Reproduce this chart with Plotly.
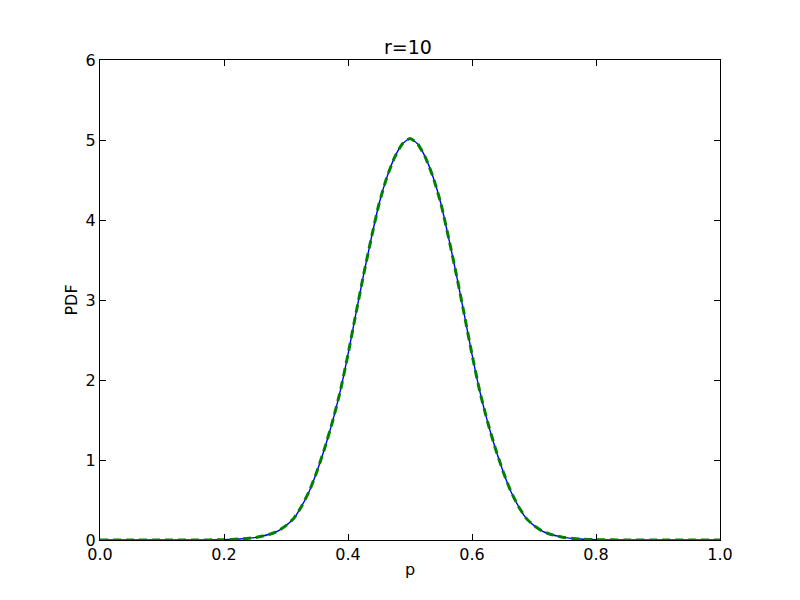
import plotly.graph_objects as go

# values (symmetric bell around p=0.5)
p = [0.0, 0.05, 0.1, 0.15, 0.2, 0.225, 0.25, 0.2625, 0.275, 0.2875, 0.3,
     0.3125, 0.325, 0.3375, 0.35, 0.3625, 0.375, 0.3875, 0.4, 0.4125, 0.425,
     0.4375, 0.45, 0.4625, 0.475, 0.4875, 0.5, 0.5125, 0.525, 0.5375, 0.55,
     0.5625, 0.575, 0.5875, 0.6, 0.6125, 0.625, 0.6375, 0.65, 0.6625, 0.675,
     0.6875, 0.7, 0.7125, 0.725, 0.7375, 0.75, 0.775, 0.8, 0.85, 0.9, 0.95, 1.0]
pdf_exact = [0.0, 0.0, 0.0, 0.0, 0.004, 0.012, 0.03, 0.05, 0.075, 0.115, 0.18,
             0.27, 0.42, 0.61, 0.86, 1.15, 1.48, 1.86, 2.32, 2.82, 3.31,
             3.77, 4.20, 4.53, 4.78, 4.95, 5.02, 4.95, 4.78, 4.53, 4.20,
             3.77, 3.31, 2.82, 2.32, 1.86, 1.48, 1.15, 0.86, 0.61, 0.42,
             0.27, 0.18, 0.115, 0.075, 0.05, 0.03, 0.012, 0.004, 0.0, 0.0, 0.0, 0.0]
pdf_approx = [0.0, 0.0, 0.0, 0.0, 0.004, 0.012, 0.03, 0.05, 0.075, 0.115, 0.18,
              0.27, 0.42, 0.61, 0.86, 1.15, 1.48, 1.86, 2.32, 2.82, 3.31,
              3.77, 4.20, 4.53, 4.78, 4.95, 5.02, 4.95, 4.78, 4.53, 4.20,
              3.77, 3.31, 2.82, 2.32, 1.86, 1.48, 1.15, 0.86, 0.61, 0.42,
              0.27, 0.18, 0.115, 0.075, 0.05, 0.03, 0.012, 0.004, 0.0, 0.0, 0.0, 0.0]
x_ticks = [0.0, 0.2, 0.4, 0.6, 0.8, 1.0]
y_ticks = [0, 1, 2, 3, 4, 5, 6]

font = "DejaVu Sans"

fig = go.Figure()
fig.add_trace(go.Scatter(x=p, y=pdf_exact, mode="lines",
                         line=dict(color="#0000ff", width=1.4, shape="spline", smoothing=0.5)))
fig.add_trace(go.Scatter(x=p, y=pdf_approx, mode="lines",
                         line=dict(color="#008000", width=3, dash="8px,5px",
                                   shape="spline", smoothing=0.5)))

axis = dict(showgrid=False, zeroline=False, showline=True, linecolor="black",
            linewidth=1, mirror="ticks", ticks="inside", ticklen=6,
            tickcolor="black", tickfont=dict(family=font, size=16, color="black"))

# page draws the figure 8px in from the corner, margins allow for that
fig.update_layout(
    width=800, height=600,
    margin=dict(l=92, r=88, t=52, b=68),
    paper_bgcolor="white", plot_bgcolor="white",
    showlegend=False,
    title=dict(text="r=10", x=0.5, xanchor="center", y=0.935, yanchor="middle",
               font=dict(family=font, size=19, color="black")),
    font=dict(family=font, color="black"),
)
fig.update_xaxes(range=[0, 1], tickvals=x_ticks,
                 ticktext=["%.1f" % v for v in x_ticks],
                 title=dict(text="p", font=dict(family=font, size=16), standoff=0),
                 **axis)
fig.update_yaxes(range=[0, 6], tickvals=y_ticks,
                 title=dict(text="PDF", font=dict(family=font, size=16), standoff=4),
                 **axis)

fig.write_html("out.html")
